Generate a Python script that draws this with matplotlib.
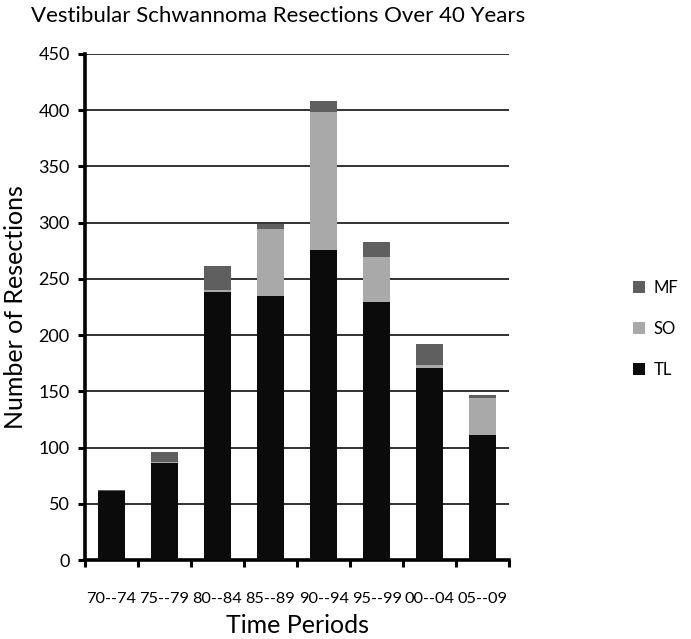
import numpy as np
import matplotlib.pyplot as plt

plt.rcParams['font.family'] = ['Lato', 'DejaVu Sans']

periods = ["70--74", "75--79", "80--84", "85--89", "90--94", "95--99", "00--04", "05--09"]
tl = [61, 86, 238, 235, 276, 229, 171, 111]
so = [0, 1, 2, 59, 122, 40, 2, 33]
mf = [1, 9, 21, 5, 10, 14, 19, 3]

fig = plt.figure(figsize=(6.91, 6.39), dpi=100)
ax = fig.add_axes([0.123, 0.1236, 0.614, 0.792])

x = np.arange(len(periods))
tl = np.array(tl)
so = np.array(so)
mf = np.array(mf)

b1 = ax.bar(x, tl, 0.5, color="#0b0b0b", label="TL", zorder=3)
b2 = ax.bar(x, so, 0.5, bottom=tl, color="#a9a9a9", label="SO", zorder=3)
b3 = ax.bar(x, mf, 0.5, bottom=tl + so, color="#5f5f5f", label="MF", zorder=3)

ax.set_xlim(-0.5, len(periods) - 0.5)
ax.set_ylim(0, 450)
ax.set_yticks(np.arange(0, 451, 50))
ax.yaxis.grid(True, color="#222222", linewidth=1.3, zorder=0)
ax.set_axisbelow(True)

ax.set_xticks(np.arange(-0.5, len(periods), 1))
ax.set_xticklabels([])
ax.set_xticks(x, minor=True)
ax.set_xticklabels(periods, minor=True)
ax.tick_params(axis="x", which="major", direction="out", length=5, width=2.2)
ax.tick_params(axis="x", which="minor", length=0, pad=23, labelsize=11.8)
ax.tick_params(axis="y", direction="out", length=5, width=2.2, labelsize=13, pad=6)

for side in ["top", "right"]:
    ax.spines[side].set_visible(False)
for side in ["left", "bottom"]:
    ax.spines[side].set_linewidth(2.6)

ax.set_ylabel("Number of Resections", fontsize=18, labelpad=8)
ax.set_xlabel("Time Periods", fontsize=18, labelpad=6)
fig.suptitle("Vestibular Schwannoma Resections Over 40 Years", fontsize=16, x=0.402, y=0.99)

fig.legend(handles=[b3, b2, b1], labels=["MF", "SO", "TL"], loc="center left",
           bbox_to_anchor=(0.895, 0.485), frameon=False, handlelength=0.7,
           handleheight=0.7, labelspacing=1.5, handletextpad=0.5, fontsize=12)

fig.savefig("out.png", dpi=100)
